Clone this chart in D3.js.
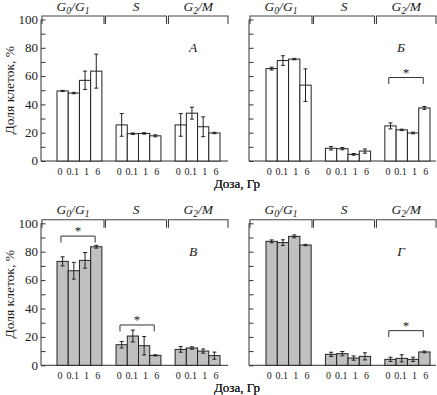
<!DOCTYPE html>
<html><head><meta charset="utf-8">
<script src="https://cdn.jsdelivr.net/npm/d3@7"></script>
<style>body{margin:0;background:#fff}svg{display:block}</style>
</head><body>
<script>
const doses = ["0", "0.1", "1", "6"];
const phases = ["G0/G1", "S", "G2/M"];
const panelNames = ["А", "Б", "В", "Г"];
const yTicks = [0, 20, 40, 60, 80, 100];

// means [phase][dose]
const meansA = [[49.5, 48, 57, 63.5], [25.5, 19.3, 19.5, 17.8], [25.5, 33.8, 24.2, 19.8]];
const errsA  = [[0.4, 0.5, 6.5, 12], [8, 0.5, 0.5, 0.7], [8, 4.2, 7, 0.5]];
const meansB = [[65.3, 71, 72, 53.6], [9, 8.7, 4.7, 7], [24.8, 22, 19.8, 37.5]];
const errsB  = [[1, 3.4, 0.5, 11.5], [1.2, 0.8, 0.6, 1.5], [2.1, 0.5, 0.6, 1]];
const meansV = [[73.2, 66.6, 73.9, 83.5], [14.5, 20.6, 13.8, 7], [11.2, 12.2, 10, 6.8]];
const errsV  = [[3.2, 5.9, 5.5, 1], [2.3, 4.2, 6.5, 0.4], [2, 0.8, 1.5, 2.5]];
const meansG = [[87.3, 86.4, 90.8, 84.7], [7.7, 8.2, 5.1, 6.3], [4.2, 4.9, 4.2, 9.4]];
const errsG  = [[1, 2, 1, 0.5], [1.5, 1.5, 1.5, 2.5], [1.5, 2.5, 1.5, 0.6]];
// significance: [phase index, level %]
const sigA = [];
const sigB = [[2, 59]];
const sigV = [[0, 91], [1, 28.4]];
const sigG = [[2, 24.4]];

const W = 437, H = 395;
const FONT = "Liberation Serif";
const svg = d3.select("body").append("svg").attr("width", W).attr("height", H)
  .attr("font-family", FONT);

const cols = [{ax: 41, g0: 57, g1: 220}, {ax: 249, g0: 266, g1: 430}];
const rows = [{y0: 161, y1: 19.5}, {y0: 365.3, y1: 223.3}];
const panels = [
  {name: panelNames[0], c: 0, r: 0, m: meansA, e: errsA, s: sigA, fill: "#ffffff"},
  {name: panelNames[1], c: 1, r: 0, m: meansB, e: errsB, s: sigB, fill: "#ffffff"},
  {name: panelNames[2], c: 0, r: 1, m: meansV, e: errsV, s: sigV, fill: "#c0c0c0"},
  {name: panelNames[3], c: 1, r: 1, m: meansG, e: errsG, s: sigG, fill: "#c0c0c0"}
];
const bracketSegs = [[1, 63], [64.5, 125.5], [127.5, 187]];
const labelShift = {"0": -2.5, "0.1": -1.2, "1": 1.5, "6": 1.5};

function txt(sel) {
  return sel.append("text").attr("font-family", FONT).attr("fill", "#1a1a1a");
}

panels.forEach(P => {
  const C = cols[P.c], R = rows[P.r];
  const g = svg.append("g");
  const y = d3.scaleLinear().domain([0, 100]).range([R.y0, R.y1]);
  const xg = d3.scaleBand().domain(phases).range([C.g0, C.g1]).paddingInner(0.24);
  const xd = d3.scaleBand().domain(doses).range([0, xg.bandwidth()]);

  // y axis
  const ax = d3.axisRight(y).tickValues(d3.range(0, 101, 10)).tickSize(4.5).tickFormat("");
  const ag = g.append("g").attr("transform", `translate(${C.ax},0)`).call(ax);
  ag.attr("font-family", FONT);
  ag.select(".domain").attr("d", `M0,${R.y0}V${R.y1}`).attr("stroke", "#333");
  ag.selectAll(".tick line").attr("stroke", "#333");
  if (P.c === 0) {
    yTicks.forEach(d => {
      txt(g).attr("x", C.ax - 3).attr("y", y(d) + 4.2)
        .attr("text-anchor", "end").attr("font-size", "13px").text(d);
    });
    txt(g).attr("transform", `translate(14,${y(50)}) rotate(-90)`)
      .attr("text-anchor", "middle").attr("font-size", "13.5px").text("Доля клеток, %");
  }
  // x baseline
  g.append("line").attr("x1", C.ax).attr("x2", C.ax + 187).attr("y1", R.y0).attr("y2", R.y0).attr("stroke", "#333");

  // top brackets
  const by = R.y1 - 3.5;
  bracketSegs.forEach((s, i) => {
    const x1 = C.ax + s[0], x2 = C.ax + s[1];
    g.append("path").attr("d", `M${x1},${R.y1 + 4.5}V${by}H${x2}V${R.y1 + 4.5}`)
      .attr("fill", "none").attr("stroke", "#444").attr("stroke-width", 1.1);
    const t = txt(g).attr("x", (x1 + x2) / 2).attr("y", by - 5.5)
      .attr("text-anchor", "middle").attr("font-size", "13.5px").attr("font-style", "italic");
    const p = phases[i];
    if (p === "S") t.text("S");
    else {
      t.append("tspan").text("G");
      t.append("tspan").text(p === "G0/G1" ? "0" : "2").attr("font-size", "9.5px").attr("dy", 3);
      t.append("tspan").text("/").attr("dy", -3);
      if (p === "G0/G1") {
        t.append("tspan").text("G");
        t.append("tspan").text("1").attr("font-size", "9.5px").attr("dy", 3);
      } else t.append("tspan").text("M");
    }
  });

  // bars
  phases.forEach((ph, pi) => {
    const gx = xg(ph);
    doses.forEach((d, di) => {
      const v = P.m[pi][di], er = P.e[pi][di];
      const bx = gx + xd(d), bw = xd.bandwidth();
      g.append("rect").attr("x", bx).attr("y", y(v)).attr("width", bw).attr("height", y(0) - y(v))
        .attr("fill", P.fill).attr("stroke", "#222").attr("stroke-width", 1);
      const cx = bx + bw / 2;
      g.append("path").attr("d", `M${cx},${y(v + er)}V${y(v - er)}M${cx - 2},${y(v + er)}H${cx + 2}M${cx - 2},${y(v - er)}H${cx + 2}`)
        .attr("stroke", "#222").attr("stroke-width", 1).attr("fill", "none");
      txt(g).attr("x", cx + labelShift[d]).attr("y", R.y0 + 14)
        .attr("text-anchor", "middle").attr("font-size", "10px").text(d);
    });
  });

  // significance
  P.s.forEach(([pi, lvl]) => {
    const gx = xg(phases[pi]), bw = xd.bandwidth();
    const x1 = gx + xd(doses[0]) + bw * 0.35, x2 = gx + xd(doses[3]) + bw * 0.4;
    const yy = y(lvl);
    g.append("path").attr("d", `M${x1},${yy + 6.5}V${yy}H${x2}V${yy + 6.5}`)
      .attr("fill", "none").attr("stroke", "#333").attr("stroke-width", 1);
    txt(g).attr("x", (x1 + x2) / 2).attr("y", yy - 1).attr("text-anchor", "middle")
      .attr("font-size", "13px").text("*");
  });

  // panel letter
  txt(g).attr("x", C.ax + 152).attr("y", y(80) + 4.5).attr("text-anchor", "middle")
    .attr("font-size", "13.5px").attr("font-style", "italic").text(P.name);

  // x title
  txt(g).attr("x", 237).attr("y", R.y0 + 26.5).attr("text-anchor", "middle")
    .attr("font-size", "13px").text("Доза, Гр");
});
</script>
</body></html>
